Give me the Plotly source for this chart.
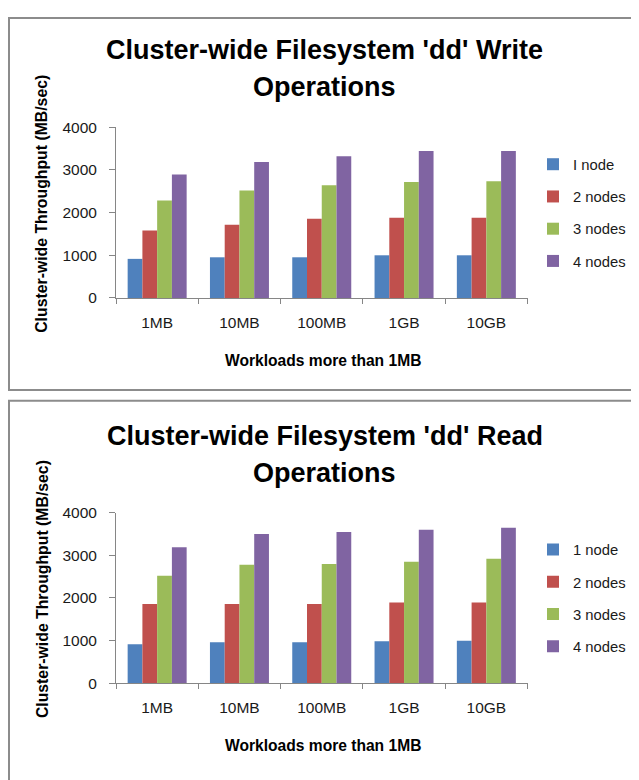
import plotly.graph_objects as go

categories = ["1MB", "10MB", "100MB", "1GB", "10GB"]
write_names = ["I node", "2 nodes", "3 nodes", "4 nodes"]
read_names = ["1 node", "2 nodes", "3 nodes", "4 nodes"]

write_1 = [916, 953, 953, 1000, 1000]
write_2 = [1581, 1718, 1856, 1879, 1879]
write_3 = [2282, 2520, 2641, 2717, 2733]
write_4 = [2894, 3184, 3322, 3443, 3443]

read_1 = [916, 962, 962, 985, 999]
read_2 = [1856, 1856, 1856, 1893, 1893]
read_3 = [2520, 2779, 2795, 2848, 2917]
read_4 = [3184, 3496, 3542, 3597, 3643]

write_title = "Cluster-wide Filesystem 'dd' Write"
read_title = "Cluster-wide Filesystem 'dd' Read"
title_line2 = "Operations"
y_title = "Cluster-wide Throughput (MB/sec)"
x_title = "Workloads more than 1MB"

colors = ["#4F81BD", "#C0504D", "#9BBB59", "#8064A2"]

# The page body has an 8px margin, so the figure starts at (8, 8) on the page.
PAGE_OFF = 8
W, H = 639 - PAGE_OFF, 780 - PAGE_OFF
FONT = "Liberation Sans, Arial, sans-serif"
AXIS_COLOR = "#868686"
TEXT_COLOR = "#1a1a1a"


def px(x):
    """page x pixel -> paper fraction"""
    return (x - PAGE_OFF) / W


def py(y):
    """page y pixel -> paper fraction"""
    return 1 - (y - PAGE_OFF) / H


fig = go.Figure()

write_vals = [write_1, write_2, write_3, write_4]
read_vals = [read_1, read_2, read_3, read_4]

for i, (name, vals) in enumerate(zip(write_names, write_vals)):
    fig.add_trace(go.Bar(
        x=categories, y=vals, name=name, xaxis="x", yaxis="y",
        marker=dict(color=colors[i], line=dict(width=0)),
        legend="legend", legendgroup="w%d" % i,
        offsetgroup=str(i),
    ))

for i, (name, vals) in enumerate(zip(read_names, read_vals)):
    fig.add_trace(go.Bar(
        x=categories, y=vals, name=name, xaxis="x2", yaxis="y2",
        marker=dict(color=colors[i], line=dict(width=0)),
        legend="legend2", legendgroup="r%d" % i,
        offsetgroup=str(i),
    ))

OFF = 394  # vertical offset of second chart

x_dom = [px(116), px(527.5)]


def xaxis_cfg(anchor):
    return dict(
        domain=x_dom, anchor=anchor, type="category",
        showline=True, linecolor=AXIS_COLOR, linewidth=1,
        ticks="outside", tickson="boundaries", ticklen=5, tickcolor=AXIS_COLOR,
        tickfont=dict(family=FONT, size=15.5, color=TEXT_COLOR),
        ticklabelstandoff=10,
        showgrid=False, zeroline=False,
    )


def yaxis_cfg(anchor, top, bottom):
    return dict(
        domain=[py(bottom), py(top)], anchor=anchor,
        range=[0, 4000], dtick=1000, tick0=0,
        showline=True, linecolor=AXIS_COLOR, linewidth=1,
        ticks="outside", ticklen=6, tickcolor=AXIS_COLOR,
        tickfont=dict(family=FONT, size=15.5, color=TEXT_COLOR),
        ticklabelstandoff=9,
        showgrid=False, zeroline=False,
    )


def legend_cfg(ycenter):
    return dict(
        x=px(533), xanchor="left", y=py(ycenter), yanchor="middle",
        font=dict(family=FONT, size=14.8, color=TEXT_COLOR),
        tracegroupgap=10, traceorder="grouped",
        bgcolor="rgba(0,0,0,0)", borderwidth=0, itemwidth=30,
    )


annotations = []
for off, t1 in [(0, write_title), (OFF, read_title)]:
    annotations.append(dict(
        text="<b>%s</b>" % t1, x=px(324.8), y=py(42 + off),
        xref="paper", yref="paper", showarrow=False,
        xanchor="center", yanchor="middle",
        font=dict(family=FONT, size=27, color="#000000"),
    ))
    annotations.append(dict(
        text="<b>%s</b>" % title_line2, x=px(324.8), y=py(80 + off),
        xref="paper", yref="paper", showarrow=False,
        xanchor="center", yanchor="middle",
        font=dict(family=FONT, size=27, color="#000000"),
    ))
    annotations.append(dict(
        text="<b>%s</b>" % y_title, x=px(42), y=py(199 + off),
        xref="paper", yref="paper", showarrow=False, textangle=-90,
        xanchor="center", yanchor="middle",
        font=dict(family=FONT, size=15.8, color="#000000"),
    ))
    annotations.append(dict(
        text="<b>%s</b>" % x_title, x=px(322.5), y=py(359.3 + off),
        xref="paper", yref="paper", showarrow=False,
        xanchor="center", yanchor="middle",
        font=dict(family=FONT, size=15.6, color="#000000"),
    ))

shapes = [
    dict(type="rect", xref="paper", yref="paper",
         x0=px(9), x1=px(660), y0=py(389.5), y1=py(9),
         line=dict(color="#8c8c8c", width=2), fillcolor="rgba(0,0,0,0)"),
    dict(type="rect", xref="paper", yref="paper",
         x0=px(9), x1=px(660), y0=py(800), y1=py(400.5),
         line=dict(color="#8c8c8c", width=2), fillcolor="rgba(0,0,0,0)"),
]

fig.update_layout(
    width=W, height=H, autosize=False,
    margin=dict(l=0, r=0, t=0, b=0),
    paper_bgcolor="white", plot_bgcolor="white",
    barmode="group", bargap=0.283, bargroupgap=0,
    xaxis=xaxis_cfg("y"),
    yaxis=yaxis_cfg("x", 120.7, 295.3),
    xaxis2=xaxis_cfg("y2"),
    yaxis2=yaxis_cfg("x2", 120.7 + OFF, 295.3 + OFF),
    legend=legend_cfg(208),
    legend2=legend_cfg(208 + OFF),
    annotations=annotations,
    shapes=shapes,
    font=dict(family=FONT, color=TEXT_COLOR),
)

fig.write_html("out.html")
